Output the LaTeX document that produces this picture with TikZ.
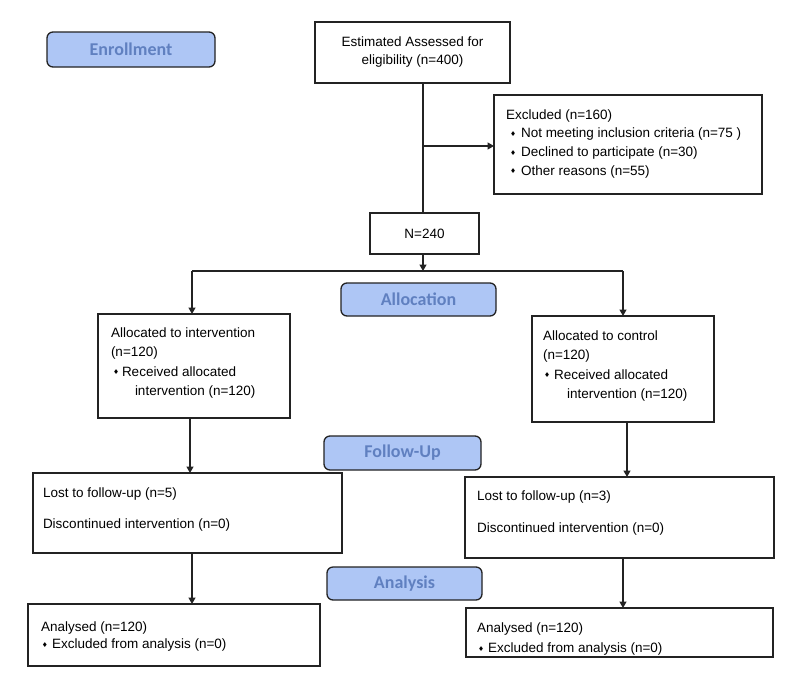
\documentclass[tikz,border=0pt]{standalone}
\usepackage{fontspec}
\usepackage{graphicx}
\setmainfont{Liberation Sans}
\newfontfamily\stagefont{Carlito}
\newfontfamily\symf{DejaVu Sans}
\usetikzlibrary{arrows.meta}
\definecolor{stagefill}{RGB}{174,198,245}
\definecolor{stagetext}{RGB}{96,128,192}
\definecolor{linec}{RGB}{35,35,35}
\newcommand{\bul}{\raisebox{1.3pt}{\scalebox{0.5}{\symf ♦}}}
\newcommand{\bline}[3]{\hspace*{#1}\makebox[#2][l]{\bul}#3}
\begin{document}
\begin{tikzpicture}[x=1pt,y=-1pt,
  every node/.style={outer sep=0pt},
  box/.style={draw=linec, line width=1.3pt, anchor=north west, inner ysep=0pt},
  cbox/.style={draw=linec, line width=1.3pt, align=center, inner sep=0pt,
    font=\fontsize{13.5}{18}\selectfont},
  stage/.style={draw=linec, line width=1.3pt, fill=stagefill, rounded corners=6pt,
    text=stagetext, font=\stagefont\bfseries\fontsize{18}{20}\selectfont, inner sep=0pt},
  conn/.style={draw=linec, line width=1.3pt},
  arr/.style={conn, -{Triangle[width=7pt,length=6.5pt]}}]
\useasboundingbox (0,0) rectangle (800,697);
\fill[white] (0,0) rectangle (800,697);

% stage labels
\node[stage, minimum width=168pt, minimum height=35pt] (enr) at (131,49.5) {Enrollment};
\node[stage, minimum width=155pt, minimum height=33pt] (alloc) at (418.5,299.5) {Allocation};
\node[stage, minimum width=157pt, minimum height=34pt] (follow) at (402.5,453) {Follow-Up};
\node[stage, minimum width=155pt, minimum height=33pt] (anal) at (404.5,583.5) {Analysis};

% top boxes
\node[cbox, minimum width=195pt, minimum height=61pt] (top) at (412.5,52.5) {Estimated Assessed for\\eligibility (n=400)};
\node[cbox, minimum width=109pt, minimum height=41pt] (n240) at (424.5,233.5) {N=240};

% excluded
\node[box, inner xsep=12pt] (excl) at (494,95) {\begin{minipage}[t][99pt][t]{244pt}\fontsize{13.5}{18.7}\selectfont
\vspace*{14pt}\rule{0pt}{10pt}Excluded (n=160)\par
\bline{4pt}{11pt}{Not meeting inclusion criteria (n=75 )}\par
\bline{4pt}{11pt}{Declined to participate (n=30)}\par
\bline{4pt}{11pt}{Other reasons (n=55)}\end{minipage}};

% allocation boxes
\node[box, inner xsep=13pt] (allocL) at (98,314) {\begin{minipage}[t][104pt][t]{166pt}\fontsize{13.5}{19.6}\selectfont
\vspace*{13pt}\rule{0pt}{10pt}Allocated to intervention\par
(n=120)\par
\bline{2pt}{9pt}{Received allocated}\par
\hspace*{24pt}intervention (n=120)\end{minipage}};
\node[box, inner xsep=11pt] (allocR) at (532,316) {\begin{minipage}[t][106pt][t]{160pt}\fontsize{13.5}{19.6}\selectfont
\vspace*{14pt}\rule{0pt}{10pt}Allocated to control\par
(n=120)\par
\bline{1pt}{10pt}{Received allocated}\par
\hspace*{24pt}intervention (n=120)\end{minipage}};

% follow-up boxes
\node[box, inner xsep=10pt] (lostL) at (33,473) {\begin{minipage}[t][80pt][t]{289pt}\fontsize{13.5}{31.5}\selectfont
\vspace*{14pt}\rule{0pt}{10pt}Lost to follow-up (n=5)\par
Discontinued intervention (n=0)\end{minipage}};
\node[box, inner xsep=12pt] (lostR) at (465,477) {\begin{minipage}[t][81pt][t]{285pt}\fontsize{13.5}{32}\selectfont
\vspace*{13pt}\rule{0pt}{10pt}Lost to follow-up (n=3)\par
Discontinued intervention (n=0)\end{minipage}};

% analysis boxes
\node[box, inner xsep=13pt] (analL) at (28,604) {\begin{minipage}[t][62pt][t]{266pt}\fontsize{13.5}{17.6}\selectfont
\vspace*{17pt}\rule{0pt}{10pt}Analysed (n=120)\par
\bline{1pt}{10pt}{Excluded from analysis (n=0)}\end{minipage}};
\node[box, inner xsep=11pt] (analR) at (466,608) {\begin{minipage}[t][49pt][t]{285pt}\fontsize{13.5}{20.6}\selectfont
\vspace*{14pt}\rule{0pt}{10pt}Analysed (n=120)\par
\bline{1pt}{10pt}{Excluded from analysis (n=0)}\end{minipage}};

% connectors
\coordinate (j1) at (423,146);
\coordinate (hl) at (192,271);
\coordinate (hm) at (423,271);
\coordinate (hr) at (623,271);
\coordinate (xL1) at (190,0);
\coordinate (xR1) at (627,0);
\coordinate (xL2) at (192,0);
\coordinate (xR2) at (623,0);

\draw[conn] (top.south -| j1) -- (n240.north -| j1);
\draw[arr] (j1) -- (excl.west |- j1);
\draw[arr] (n240.south -| hm) -- (hm);
\draw[conn] (hl) -- (hr);
\draw[arr] (hl) -- (allocL.north -| hl);
\draw[arr] (hr) -- (allocR.north -| hr);
\draw[arr] (allocL.south -| xL1) -- (lostL.north -| xL1);
\draw[arr] (allocR.south -| xR1) -- (lostR.north -| xR1);
\draw[arr] (lostL.south -| xL2) -- (analL.north -| xL2);
\draw[arr] (lostR.south -| xR2) -- (analR.north -| xR2);
\end{tikzpicture}
\end{document}
